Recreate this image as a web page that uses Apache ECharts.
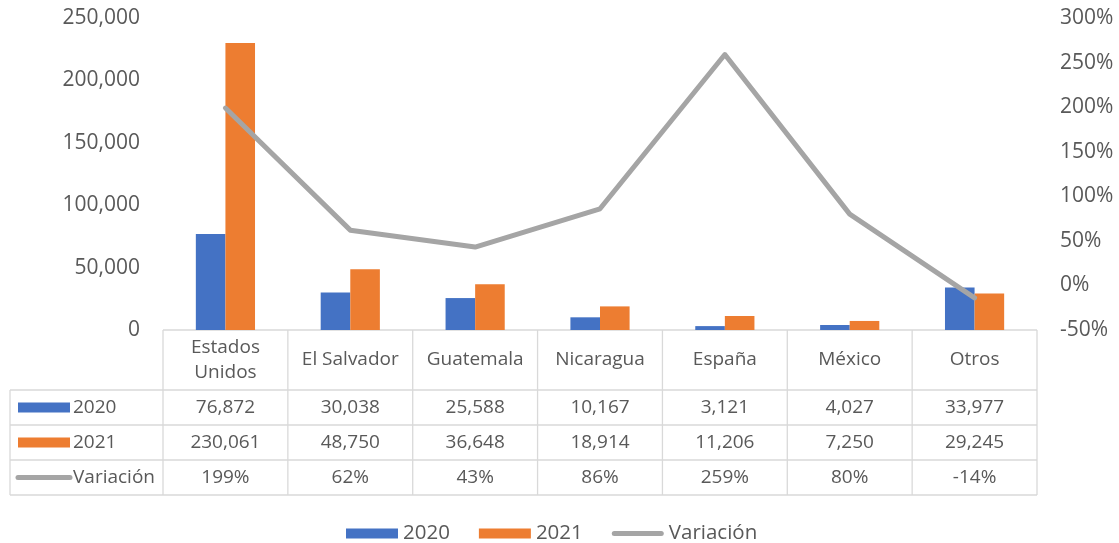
<!DOCTYPE html>
<html><head><meta charset="utf-8">
<script src="https://cdn.jsdelivr.net/npm/echarts@6/dist/echarts.min.js"></script>
<style>html,body{margin:0;padding:0;background:#fff}#c{width:1119px;height:543px}</style>
</head><body><div id="c"></div>
<script>
const categories = ['Estados\nUnidos','El Salvador','Guatemala','Nicaragua','España','México','Otros'];
const values2020 = [76872,30038,25588,10167,3121,4027,33977];
const values2021 = [230061,48750,36648,18914,11206,7250,29245];
const variacion = [199,62,43,86,259,80,-14];
const seriesNames = ['2020','2021','Variación'];
const colors = ['#4472C4','#ED7D31','#A5A5A5'];

const FONT = '"Open Sans", sans-serif';
const TXT = '#595959';
const BORDER = '#D9D9D9';
const G = {left:163, right:82, top:18, bottom:213};
const W = 1119, H = 543;

const chart = echarts.init(document.getElementById('c'), null, {renderer:'canvas'});
const fmt = v => v.toLocaleString('en-US');
const lineIcon = 'path://M2.5,0 L49.5,0 A2.5,2.5 0 0 1 49.5,5 L2.5,5 A2.5,2.5 0 0 1 2.5,0 Z';

chart.setOption({
  animation:false,
  textStyle:{fontFamily:FONT},
  color:colors,
  grid:{left:G.left,right:G.right,top:G.top,bottom:G.bottom,containLabel:false},
  legend:{
    data:[{name:seriesNames[0],icon:'rect'},{name:seriesNames[1],icon:'rect'},{name:seriesNames[2],icon:lineIcon}],
    left:346, top:523, padding:0, itemWidth:52, itemHeight:10, itemGap:29, symbolKeepAspect:true,
    textStyle:{fontSize:20.5,color:TXT,fontFamily:FONT}
  },
  xAxis:{
    type:'category', data:categories,
    axisLine:{show:false}, axisTick:{show:false},
    axisLabel:{fontSize:19,color:TXT,fontFamily:FONT,margin:30,verticalAlign:'middle',lineHeight:25,interval:0}
  },
  yAxis:[
    {type:'value',min:0,max:250000,interval:50000,splitLine:{show:false},axisLine:{show:false},axisTick:{show:false},
     axisLabel:{fontSize:21,color:TXT,fontFamily:FONT,margin:23,formatter:v=>fmt(v)}},
    {type:'value',min:-50,max:300,interval:50,splitLine:{show:false},axisLine:{show:false},axisTick:{show:false},
     axisLabel:{fontSize:21,color:TXT,fontFamily:FONT,margin:23,formatter:v=>v+'%'}}
  ],
  series:[
    {name:seriesNames[0],type:'bar',data:values2020,barWidth:'23.7%',barGap:'0%',itemStyle:{color:colors[0]}},
    {name:seriesNames[1],type:'bar',data:values2021,barWidth:'23.7%',barGap:'0%',itemStyle:{color:colors[1]}},
    {name:seriesNames[2],type:'line',yAxisIndex:1,data:variacion,symbol:'none',
     lineStyle:{color:colors[2],width:5,cap:'round',join:'round'},itemStyle:{color:colors[2]}}
  ]
});

// Data table built from the arrays, positioned from the axis scale
const n = categories.length;
const x0 = G.left, x1 = W - G.right;
const colW = (x1 - x0) / n;
const yTop = H - G.bottom;           // 330
const rows = [yTop + 60, yTop + 95, yTop + 130, yTop + 165]; // 390,425,460,495
const leftEdge = 10;
const els = [];
const line = (ax,ay,bx,by) => els.push({type:'line',shape:{x1:ax,y1:ay,x2:bx,y2:by},style:{stroke:BORDER,lineWidth:1.3},silent:true});
line(x0, yTop, x1, yTop);
rows.forEach(y => line(leftEdge, y, x1, y));
for (let i=0;i<=n;i++){ const x = x0 + i*colW; line(x, yTop, x, rows[3]); }
line(leftEdge, rows[0], leftEdge, rows[3]);

const rowData = [values2020.map(fmt), values2021.map(fmt), variacion.map(v=>v+'%')];
rowData.forEach((arr, r) => {
  const cy = (rows[r] + rows[r+1]) / 2;
  arr.forEach((t, i) => {
    const cx = chart.convertToPixel({xAxisIndex:0}, i);
    els.push({type:'text',silent:true,style:{text:t,x:cx,y:cy,fill:TXT,font:'19px '+FONT,align:'center',verticalAlign:'middle'}});
  });
  if (r < 2) {
    els.push({type:'rect',silent:true,shape:{x:18,y:cy-5,width:52,height:10},style:{fill:colors[r]}});
  } else {
    els.push({type:'line',silent:true,shape:{x1:18,y1:cy,x2:70,y2:cy},style:{stroke:colors[2],lineWidth:5,lineCap:'round'}});
  }
  els.push({type:'text',silent:true,style:{text:seriesNames[r],x:73,y:cy,fill:TXT,font:'19px '+FONT,align:'left',verticalAlign:'middle'}});
});
chart.setOption({graphic:{elements:els}});
</script></body></html>
